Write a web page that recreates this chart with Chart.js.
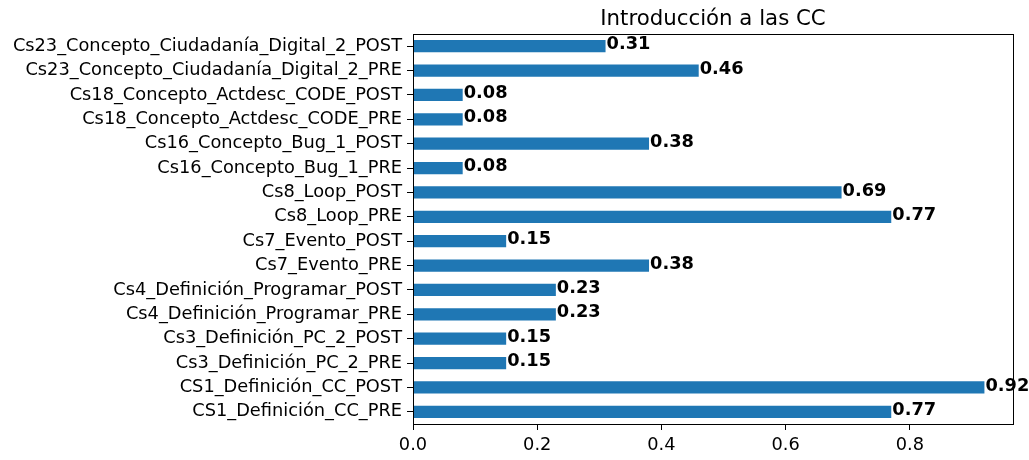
<!DOCTYPE html>
<html>
<head>
<meta charset="utf-8">
<script src="https://cdn.jsdelivr.net/npm/chart.js@4/dist/chart.umd.min.js"></script>
<style>
html,body{margin:0;padding:0;background:#fff;}
#wrap{width:1029px;height:460px;position:relative;}
</style>
</head>
<body>
<div id="wrap"><canvas id="c" width="1029" height="460"></canvas></div>
<script>
const categories = [
  "Cs23_Concepto_Ciudadanía_Digital_2_POST",
  "Cs23_Concepto_Ciudadanía_Digital_2_PRE",
  "Cs18_Concepto_Actdesc_CODE_POST",
  "Cs18_Concepto_Actdesc_CODE_PRE",
  "Cs16_Concepto_Bug_1_POST",
  "Cs16_Concepto_Bug_1_PRE",
  "Cs8_Loop_POST",
  "Cs8_Loop_PRE",
  "Cs7_Evento_POST",
  "Cs7_Evento_PRE",
  "Cs4_Definición_Programar_POST",
  "Cs4_Definición_Programar_PRE",
  "Cs3_Definición_PC_2_POST",
  "Cs3_Definición_PC_2_PRE",
  "CS1_Definición_CC_POST",
  "CS1_Definición_CC_PRE"
];
const values = [0.31, 0.46, 0.08, 0.08, 0.38, 0.08, 0.69, 0.77, 0.15, 0.38, 0.23, 0.23, 0.15, 0.15, 0.92, 0.77];
const xTicks = [0.0, 0.2, 0.4, 0.6, 0.8];
const titleText = "Introducción a las CC";

const FONT = "'DejaVu Sans', sans-serif";
const TICK_SIZE = 17.8;
const TITLE_SIZE = 21.3;

const frame = {
  id: 'frame',
  afterDatasetsDraw(chart) {
    const {ctx, chartArea: a} = chart;
    ctx.save();
    ctx.strokeStyle = '#000';
    ctx.lineWidth = 1;
    ctx.strokeRect(Math.round(a.left) + 0.5, Math.round(a.top) + 0.5, Math.round(a.right - a.left), Math.round(a.bottom - a.top));
    ctx.restore();
  }
};

const axesTitle = {
  id: 'axesTitle',
  afterDraw(chart) {
    const {ctx, chartArea: a} = chart;
    ctx.save();
    ctx.font = TITLE_SIZE + "px " + FONT;
    ctx.fillStyle = '#000';
    ctx.textAlign = 'center';
    ctx.textBaseline = 'alphabetic';
    ctx.fillText(titleText, (a.left + a.right) / 2, a.top - 9);
    ctx.restore();
  }
};

const valueLabels = {
  id: 'valueLabels',
  afterDatasetsDraw(chart) {
    const {ctx} = chart;
    const meta = chart.getDatasetMeta(0);
    ctx.save();
    ctx.font = "bold " + TICK_SIZE + "px " + FONT;
    ctx.fillStyle = '#000';
    ctx.textAlign = 'left';
    ctx.textBaseline = 'middle';
    meta.data.forEach((bar, i) => {
      ctx.fillText(values[i].toFixed(2), bar.x + 1, bar.y - 1.5);
    });
    ctx.restore();
  }
};

new Chart(document.getElementById('c'), {
  type: 'bar',
  data: {
    labels: categories,
    datasets: [{
      data: values,
      backgroundColor: '#1f77b4',
      borderWidth: 0,
      barPercentage: 0.5,
      categoryPercentage: 1.0
    }]
  },
  plugins: [frame, valueLabels, axesTitle],
  options: {
    indexAxis: 'y',
    responsive: false,
    animation: false,
    layout: {padding: {top: 34, right: 16, bottom: 0, left: 0}},
    plugins: {
      legend: {display: false},
      tooltip: {enabled: false},
      title: {display: false}
    },
    scales: {
      x: {
        type: 'linear',
        min: 0,
        max: 0.966,
        afterBuildTicks(scale) { scale.ticks = xTicks.map(v => ({value: v})); },
        afterFit(scale) { scale.height = 36; },
        border: {display: true, color: '#000'},
        grid: {display: true, drawOnChartArea: false, drawTicks: true, tickLength: 6, color: '#000'},
        ticks: {
          color: '#000',
          padding: 5,
          font: {family: FONT, size: TICK_SIZE},
          callback: (v) => Number(v).toFixed(1)
        }
      },
      y: {
        type: 'category',
        offset: true,
        afterFit(scale) { scale.width = 413; },
        border: {display: true, color: '#000'},
        grid: {display: true, drawOnChartArea: false, drawTicks: true, tickLength: 6, color: '#000', offset: false},
        ticks: {
          color: '#000',
          padding: 5,
          autoSkip: false,
          font: {family: FONT, size: TICK_SIZE}
        }
      }
    }
  }
});
</script>
</body>
</html>
